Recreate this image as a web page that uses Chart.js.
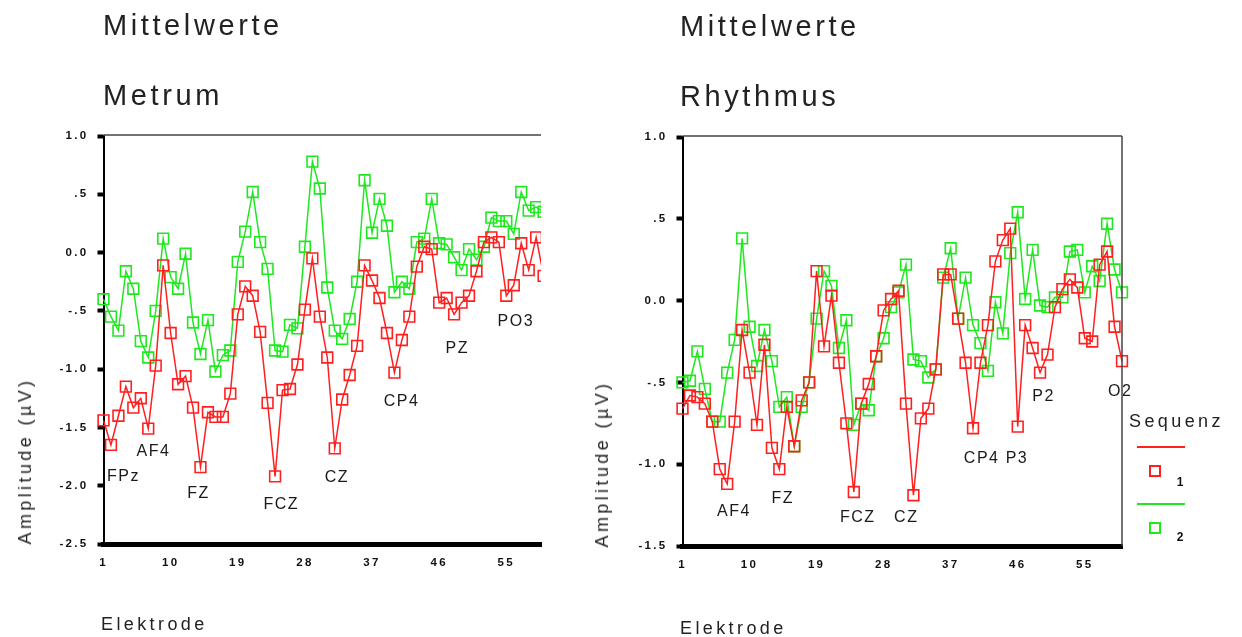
<!DOCTYPE html>
<html>
<head>
<meta charset="utf-8">
<script src="https://cdn.jsdelivr.net/npm/chart.js@4/dist/chart.umd.min.js"></script>
<style>
  html, body { margin: 0; padding: 0; background: #fff; }
  body { width: 1242px; height: 637px; position: relative; overflow: hidden;
         font-family: "Liberation Sans", Arial, sans-serif; color: #222; }
  canvas { position: absolute; top: 0; }
  .t { position: absolute; white-space: nowrap; line-height: 1; }
  .title { font-size: 29px; letter-spacing: 3.6px; }
  .axt { font-size: 18px; letter-spacing: 3.4px; }
  .rot { transform: translate(-50%, -50%) rotate(-90deg); }
  .lg-line { position: absolute; height: 2px; }
  .lg-box { position: absolute; width: 12px; height: 12px; box-sizing: border-box; border: 2px solid; }
  .lg-num { position: absolute; font: bold 12px "Liberation Sans", Arial, sans-serif; color: #111; transform: translate(-50%, -50%); }
</style>
</head>
<body>
<canvas id="metrum" width="620" height="637" style="left:0px"></canvas>
<canvas id="rhythmus" width="662" height="637" style="left:580px"></canvas>

<div class="t title" style="left:103px; top:11px;">Mittelwerte</div>
<div class="t title" style="left:103px; top:81px;">Metrum</div>
<div class="t title" style="left:680px; top:12px;">Mittelwerte</div>
<div class="t title" style="left:680px; top:82px;">Rhythmus</div>

<div class="t axt rot" style="left:25px; top:461px;">Amplitude (µV)</div>
<div class="t axt rot" style="left:602px; top:464px;">Amplitude (µV)</div>
<div class="t axt" style="left:101px; top:615px;">Elektrode</div>
<div class="t axt" style="left:680px; top:619px;">Elektrode</div>

<!-- legend of the Rhythmus panel -->
<div class="t axt" style="left:1129px; top:412px;">Sequenz</div>
<div class="lg-line" style="left:1137px; top:446px; width:48px; background:#ff1f1f;"></div>
<div class="lg-box" style="left:1149px; top:465px; border-color:#ff1f1f;"></div>
<div class="lg-num" style="left:1180px; top:482px;">1</div>
<div class="lg-line" style="left:1137px; top:503px; width:48px; background:#1ee81e;"></div>
<div class="lg-box" style="left:1149px; top:522px; border-color:#1ee81e;"></div>
<div class="lg-num" style="left:1180px; top:537px;">2</div>

<script>
// Electrode index (x) shared by both panels
const electrodes = [1, 2, 3, 4, 5, 6, 7, 8, 9, 10, 11, 12, 13, 14, 15, 16, 17, 18, 19, 20,
                    21, 22, 23, 24, 25, 26, 27, 28, 29, 30, 31, 32, 33, 34, 35, 36, 37, 38, 39, 40,
                    41, 42, 43, 44, 45, 46, 47, 48, 49, 50, 51, 52, 53, 54, 55, 56, 57, 58, 59, 60];
const xTickValues = [1, 10, 19, 28, 37, 46, 55];

// Metrum: mean amplitude (µV) per electrode, Sequenz 1 and 2
const metrumSeq1 = [-1.44, -1.65, -1.40, -1.15, -1.33, -1.25, -1.51, -0.97, -0.11, -0.69,
                    -1.13, -1.06, -1.33, -1.84, -1.37, -1.41, -1.41, -1.21, -0.53, -0.29,
                    -0.37, -0.68, -1.29, -1.92, -1.18, -1.17, -0.96, -0.49, -0.05, -0.55,
                    -0.90, -1.68, -1.26, -1.05, -0.80, -0.11, -0.24, -0.39, -0.69, -1.03,
                    -0.75, -0.55, -0.12, 0.05, 0.03, -0.43, -0.39, -0.53, -0.43, -0.37,
                    -0.16, 0.09, 0.13, 0.09, -0.37, -0.28, 0.08, -0.15, 0.13, -0.20];
const metrumSeq2 = [-0.40, -0.55, -0.67, -0.16, -0.31, -0.76, -0.90, -0.50, 0.12, -0.21,
                    -0.31, -0.01, -0.60, -0.87, -0.58, -1.02, -0.88, -0.84, -0.08, 0.18,
                    0.52, 0.09, -0.14, -0.84, -0.85, -0.62, -0.65, 0.05, 0.78, 0.55,
                    -0.30, -0.67, -0.74, -0.57, -0.25, 0.62, 0.17, 0.46, 0.23, -0.34,
                    -0.25, -0.31, 0.09, 0.12, 0.46, 0.08, 0.07, -0.04, -0.15, 0.03,
                    -0.06, 0.05, 0.30, 0.27, 0.27, 0.16, 0.52, 0.36, 0.39, 0.35];
const metrumYTicks = [1.0, 0.5, 0.0, -0.5, -1.0, -1.5, -2.0, -2.5];

// Rhythmus: mean amplitude (µV) per electrode, Sequenz 1 and 2
const rhythmusSeq1 = [-0.66, -0.58, -0.59, -0.63, -0.74, -1.03, -1.12, -0.74, -0.18, -0.44,
                      -0.76, -0.27, -0.90, -1.03, -0.65, -0.89, -0.61, -0.50, 0.18, -0.28,
                      0.03, -0.38, -0.75, -1.17, -0.63, -0.51, -0.34, -0.06, 0.01, 0.06,
                      -0.63, -1.19, -0.72, -0.66, -0.42, 0.16, 0.16, -0.11, -0.38, -0.78,
                      -0.38, -0.15, 0.24, 0.37, 0.44, -0.77, -0.15, -0.29, -0.44, -0.33,
                      -0.04, 0.07, 0.13, 0.08, -0.23, -0.25, 0.22, 0.30, -0.16, -0.37];
const rhythmusSeq2 = [-0.50, -0.49, -0.31, -0.54, -0.74, -0.74, -0.44, -0.24, 0.38, -0.16,
                      -0.40, -0.18, -0.37, -0.65, -0.59, -0.89, -0.65, -0.50, -0.11, 0.18,
                      0.09, -0.29, -0.12, -0.76, -0.63, -0.67, -0.34, -0.23, -0.04, 0.05,
                      0.22, -0.36, -0.37, -0.47, -0.42, 0.14, 0.32, -0.11, 0.14, -0.15,
                      -0.26, -0.43, -0.01, -0.20, 0.29, 0.54, 0.01, 0.31, -0.03, -0.04,
                      0.02, 0.02, 0.30, 0.31, 0.05, 0.21, 0.12, 0.47, 0.19, 0.05];
const rhythmusYTicks = [1.0, 0.5, 0.0, -0.5, -1.0, -1.5];

// Electrode names written into the plot, anchored in data space (electrode, µV)
const metrumNames = [
  { text: 'FPz', electrode: 3.68, amplitude: -1.91 },
  { text: 'AF4', electrode: 7.70, amplitude: -1.70 },
  { text: 'FZ',  electrode: 13.73, amplitude: -2.06 },
  { text: 'FCZ', electrode: 24.82, amplitude: -2.15 },
  { text: 'CZ',  electrode: 32.30, amplitude: -1.92 },
  { text: 'CP4', electrode: 40.95, amplitude: -1.27 },
  { text: 'PZ',  electrode: 48.43, amplitude: -0.81 },
  { text: 'PO3', electrode: 56.27, amplitude: -0.58 }
];
const rhythmusNames = [
  { text: 'AF4', electrode: 7.91, amplitude: -1.28 },
  { text: 'FZ',  electrode: 14.45, amplitude: -1.20 },
  { text: 'FCZ', electrode: 24.53, amplitude: -1.32 },
  { text: 'CZ',  electrode: 31.04, amplitude: -1.32 },
  { text: 'CP4', electrode: 41.16, amplitude: -0.96 },
  { text: 'P3',  electrode: 45.90, amplitude: -0.96 },
  { text: 'P2',  electrode: 49.48, amplitude: -0.58 },
  { text: 'O2',  electrode: 59.77, amplitude: -0.55 }
];

const RED = '#ff1f1f';
const GREEN = '#1ee81e';
const TICK_FONT = { family: '"Liberation Sans", Arial, sans-serif', size: 11.5, weight: 'bold' };

function fmtTick(v) {
  const s = Math.abs(v).toFixed(1);
  const body = (v !== 0 && Math.abs(v) < 1) ? s.slice(1) : s;
  return (v < 0 ? '-' : '') + body;
}

// wide-spaced tick lettering + the thin frame lines on top / right
const framePlugin = {
  id: 'frame',
  beforeDraw(chart) {
    chart.ctx.letterSpacing = '2.3px';
  },
  afterDraw(chart, args, opts) {
    const { ctx, chartArea: a } = chart;
    ctx.save();
    ctx.strokeStyle = '#444';
    ctx.lineWidth = 1.5;
    ctx.beginPath();
    ctx.moveTo(a.left, a.top - 1);
    ctx.lineTo(a.right, a.top - 1);
    if (opts.rightBorder) {
      ctx.moveTo(a.right, a.top - 1);
      ctx.lineTo(a.right, a.bottom);
    }
    ctx.stroke();
    ctx.restore();
  }
};

const namesPlugin = {
  id: 'electrodeNames',
  afterDatasetsDraw(chart, args, opts) {
    const { ctx, scales } = chart;
    const size = 16;
    ctx.save();
    ctx.letterSpacing = '1.5px';
    ctx.font = size + 'px "Liberation Sans", Arial, sans-serif';
    ctx.fillStyle = '#1a1a1a';
    ctx.textAlign = 'center';
    ctx.textBaseline = 'alphabetic';
    for (const n of opts.names) {
      const px = scales.x.getPixelForValue(n.electrode);
      const py = scales.y.getPixelForValue(n.amplitude);
      ctx.fillText(n.text, px, py + 0.358 * size);
    }
    ctx.restore();
  }
};

function series(label, values, color, clip) {
  return {
    label,
    data: electrodes.map((e, i) => ({ x: e, y: values[i] })),
    borderColor: color,
    borderWidth: 1.5,
    tension: 0,
    pointStyle: 'rect',
    pointRadius: 7.6,
    pointBorderWidth: 1.6,
    pointBorderColor: color,
    pointBackgroundColor: 'rgba(0,0,0,0)',
    clip
  };
}

function makePanel(id, c) {
  return new Chart(document.getElementById(id), {
    type: 'line',
    data: {
      datasets: [
        series('1', c.seq1, RED, c.clip),
        series('2', c.seq2, GREEN, c.clip)
      ]
    },
    options: {
      responsive: false,
      animation: false,
      events: [],
      devicePixelRatio: 1,
      layout: { padding: { top: c.top, right: c.padRight, left: 0, bottom: 0 } },
      plugins: {
        legend: { display: false },
        tooltip: { enabled: false },
        frame: { rightBorder: c.rightBorder },
        electrodeNames: { names: c.names }
      },
      scales: {
        x: {
          type: 'linear',
          min: 1,
          max: c.xMax,
          afterBuildTicks: s => { s.ticks = xTickValues.map(v => ({ value: v })); },
          afterFit: s => { s.height = c.xAxisHeight; },
          grid: { display: true, drawOnChartArea: false, drawTicks: false },
          border: { display: true, color: '#000', width: 5 },
          ticks: { padding: 12, font: TICK_FONT, color: '#111', maxRotation: 0, autoSkip: false,
                   callback: v => String(v) }
        },
        y: {
          type: 'linear',
          min: c.yTicks[c.yTicks.length - 1],
          max: c.yTicks[0],
          afterBuildTicks: s => { s.ticks = c.yTicks.map(v => ({ value: v })); },
          afterFit: s => { s.width = c.yAxisWidth; },
          grid: { display: true, drawOnChartArea: false, drawTicks: true, tickLength: 6, tickWidth: 4, tickColor: '#000' },
          border: { display: true, color: '#000', width: 2 },
          ticks: { padding: 9, font: TICK_FONT, color: '#111', callback: v => fmtTick(v) }
        }
      }
    },
    plugins: [framePlugin, namesPlugin]
  });
}

makePanel('metrum', {
  seq1: metrumSeq1, seq2: metrumSeq2, yTicks: metrumYTicks, names: metrumNames,
  xMax: 59.65, top: 136, padRight: 79, yAxisWidth: 103.5, xAxisHeight: 93,
  rightBorder: false,
  clip: { left: 12, top: 12, bottom: 12, right: 0 }
});

makePanel('rhythmus', {
  seq1: rhythmusSeq1, seq2: rhythmusSeq2, yTicks: rhythmusYTicks, names: rhythmusNames,
  xMax: 60, top: 137, padRight: 120, yAxisWidth: 102.5, xAxisHeight: 91,
  rightBorder: true,
  clip: false
});
</script>
</body>
</html>
